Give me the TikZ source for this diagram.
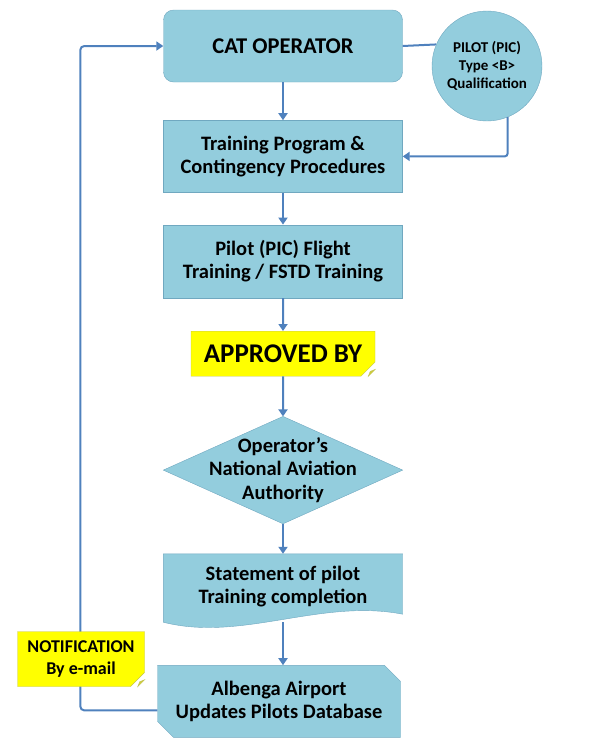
\documentclass[tikz,border=0pt]{standalone}
\usepackage{fontspec}
\setmainfont{Carlito}
\usetikzlibrary{positioning,shapes.misc,arrows.meta,backgrounds}

\definecolor{boxblue}{RGB}{147,205,221}
\definecolor{boxline}{RGB}{112,168,192}
\definecolor{flowblue}{RGB}{79,129,189}
\definecolor{noteyellow}{RGB}{255,255,0}
\definecolor{noteline}{RGB}{196,196,80}
\definecolor{notefold}{RGB}{205,205,60}

\begin{document}
\begin{tikzpicture}[x=1pt, y=-1pt,
    font=\bfseries\fontsize{20.5}{23.5}\selectfont,
    box/.style={rectangle, draw=boxline, fill=boxblue, align=center, inner sep=0pt, minimum width=239pt, minimum height=72pt},
    plainbox/.style={rectangle, align=center, inner sep=0pt, minimum width=239pt},
    shapeline/.style={draw=boxline, fill=boxblue},
    roundnode/.style={circle, draw=boxline, fill=boxblue, align=center, inner sep=0pt, minimum size=110pt, font=\bfseries\fontsize{15}{18}\selectfont},
    note/.style={chamfered rectangle, chamfered rectangle corners=south east, chamfered rectangle xsep=7pt, chamfered rectangle ysep=7pt, draw=noteline, fill=noteyellow, align=center, inner sep=0pt},
    flow/.style={draw=flowblue, line width=2pt, -{Triangle[length=7pt, width=9pt]}},
    link/.style={draw=flowblue, line width=2pt}]
    \useasboundingbox (0,0) rectangle (600,748);

    % Nodes
    \node[box, rounded corners=10pt, font=\bfseries\fontsize{22.5}{26}\selectfont] (cat) at (283,46) {CAT OPERATOR};
    \node[roundnode] (pic) at (487,66) {PILOT (PIC)\\Type <B>\\Qualification};
    \node[box] (prog) [below=38pt of cat] {Training Program \&\\Contingency Procedures};
    \node[box, minimum height=73pt] (flight) [below=32pt of prog] {Pilot (PIC) Flight\\Training / FSTD Training};
    \node[note, minimum width=184pt, minimum height=45pt, font=\bfseries\fontsize{27}{31}\selectfont] (apv) [below=33pt of flight] {APPROVED BY};
    \node[plainbox, minimum height=107pt] (naa) [below=40pt of apv] {Operator’s\\National Aviation\\Authority};
    \node[plainbox, minimum height=68pt, text depth=6pt] (stmt) [below=30pt of naa] {Statement of pilot\\Training completion};
    \node[box, chamfered rectangle, chamfered rectangle corners={north east, south west}, chamfered rectangle xsep=8pt, chamfered rectangle ysep=8pt, minimum width=243pt] (alb) [below=43pt of stmt, xshift=-4pt] {Albenga Airport\\Updates Pilots Database};

    % Shapes behind the text
    \begin{scope}[on background layer]
        \filldraw[shapeline] (naa.north) -- (naa.east) -- (naa.south) -- (naa.west) -- cycle;
        \filldraw[shapeline] (stmt.north west) -- (stmt.north east) -- ([yshift=8pt]stmt.south east)
            .. controls ([xshift=-82pt, yshift=24pt]stmt.south east) and ([xshift=78pt, yshift=-20pt]stmt.south west) .. (stmt.south west) -- cycle;
    \end{scope}

    % Edges
    \draw[link] (cat.east) -- (pic.157);
    \draw[flow, rounded corners=3pt] (pic.-68) |- (prog.east);
    \draw[flow] (cat) -- (prog);
    \draw[flow] (prog) -- (flight);
    \draw[flow] (flight) -- (apv);
    \draw[flow] (apv) -- (naa.north);
    \draw[flow] (naa.south) -- (stmt.north);
    \draw[flow] (stmt.south) -- (stmt.south |- alb.north);
    \draw[flow, rounded corners=4pt] ([yshift=-9pt]alb.west) -- ++(-77,0) |- (cat.west);

    % Notification over the return line
    \node[note, minimum width=127pt, minimum height=55pt, font=\bfseries\fontsize{18}{22}\selectfont] (mail) at (81,659) {NOTIFICATION\\By e-mail};

    % Folded corners
    \coordinate (apvc) at (apv.south -| apv.east);
    \coordinate (mailc) at (mail.south -| mail.east);
    \filldraw[draw=noteline, fill=notefold] ([yshift=7pt]apvc) -- ([xshift=-7pt]apvc) -- ([xshift=-5pt, yshift=5pt]apvc) -- cycle;
    \filldraw[draw=noteline, fill=notefold] ([yshift=7pt]mailc) -- ([xshift=-7pt]mailc) -- ([xshift=-5pt, yshift=5pt]mailc) -- cycle;
\end{tikzpicture}
\end{document}
